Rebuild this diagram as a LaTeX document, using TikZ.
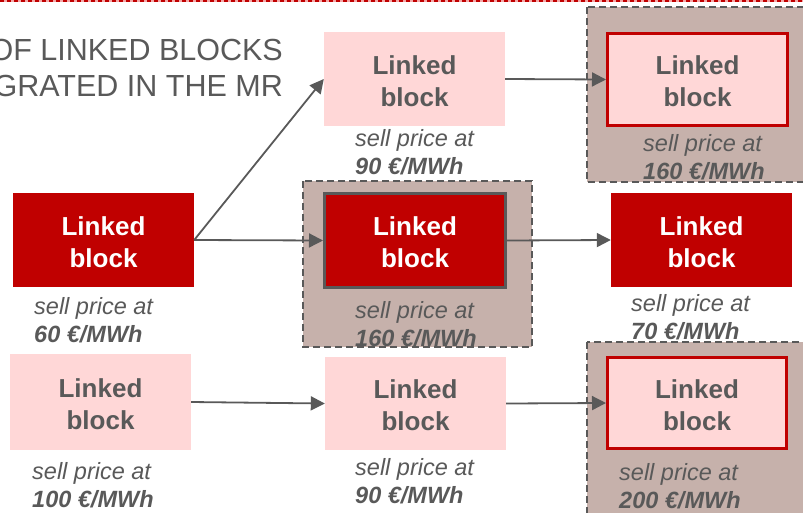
\documentclass[tikz,border=0pt]{standalone}
\usepackage{fontspec}
\setmainfont{Liberation Sans}
\usetikzlibrary{arrows.meta}
\definecolor{dkred}{HTML}{C00000}
\definecolor{lpink}{HTML}{FFD7D7}
\definecolor{taupe}{HTML}{C6B1AB}
\definecolor{txtgray}{HTML}{595959}
\definecolor{edgepink}{HTML}{F4A8A8}
\newcommand{\blocktext}{\rule{0pt}{23pt}Linked\\block}
\tikzset{
  blockbase/.style={rectangle, minimum width=181pt, minimum height=94pt,
    inner sep=0pt, align=center, font=\fontsize{26}{32}\selectfont\bfseries},
  darkblock/.style={blockbase, fill=dkred, text=white},
  pinkblock/.style={blockbase, fill=lpink, text=txtgray},
  chosenpink/.style={blockbase, fill=lpink, text=txtgray, draw=dkred,
    line width=3pt, minimum width=180pt, minimum height=92pt},
  chosendark/.style={blockbase, fill=dkred, text=white, draw=txtgray,
    line width=3pt},
  pricelabel/.style={anchor=base west, inner sep=0pt, align=left,
    text=txtgray, font=\fontsize{23.5}{28.5}\selectfont\itshape},
  zone/.style={fill=taupe, draw=txtgray, line width=1.5pt,
    dash pattern=on 7pt off 4pt},
  link/.style={draw=txtgray, line width=1.8pt,
    -{Triangle[length=14pt,width=14pt]}},
}
\begin{document}
\begin{tikzpicture}[x=1pt,y=-1pt]
\useasboundingbox (0,0) rectangle (803,512);
\clip (0,0) rectangle (803,512);

% dashed rule along the top edge
\draw[edgepink, line width=2.5pt] (0,1) -- (803,1);
\draw[dkred, line width=2.5pt, dash pattern=on 4pt off 3pt] (0,1) -- (803,1);

% heading
\node[anchor=east, inner sep=0pt, align=right, text=txtgray,
      font=\fontsize{30.5}{36}\selectfont] (heading) at (283,68)
      {OF LINKED BLOCKS\\INTEGRATED IN THE MR};

% shaded zones around the accepted blocks
\path[zone] (587,7) rectangle (812,182);
\path[zone] (303,181) rectangle (532,347);
\path[zone] (587,342) rectangle (812,520);

% blocks
\node[darkblock]  (b60)  at (103.5,240) {\blocktext};
\node[pinkblock, minimum height=96pt] (b100) at (100.5,402) {\blocktext};
\node[pinkblock]  (b90a) at (414.5,79) {\blocktext};
\node[chosendark] (b160m) at (415,240.5) {\blocktext};
\node[pinkblock, minimum height=93pt] (b90b) at (415.5,403.5) {\blocktext};
\node[chosenpink] (b160t) at (697.5,79.5) {\blocktext};
\node[darkblock]  (b70)  at (701.5,240) {\blocktext};
\node[chosenpink, minimum width=179pt, minimum height=91pt] (b200) at (697,403) {\blocktext};

% price labels: the given point is the baseline of the second line
\node[pricelabel] (p60)   at (34,342.5)  {sell price at\\\textbf{60 €/MWh}};
\node[pricelabel] (p100)  at (32,507.5)  {sell price at\\\textbf{100 €/MWh}};
\node[pricelabel] (p90a)  at (355,174.5) {sell price at\\\textbf{90 €/MWh}};
\node[pricelabel] (p160m) at (355,346.5) {sell price at\\\textbf{160 €/MWh}};
\node[pricelabel] (p90b)  at (355,503.5) {sell price at\\\textbf{90 €/MWh}};
\node[pricelabel] (p160t) at (643,179.5) {sell price at\\\textbf{160 €/MWh}};
\node[pricelabel] (p70)   at (631,339.5) {sell price at\\\textbf{70 €/MWh}};
\node[pricelabel] (p200)  at (619,508.5) {sell price at\\\textbf{200 €/MWh}};

% links between blocks
\draw[link] (b60.east) -- (b90a.west);
\draw[link] (b60.east) -- (b160m.west);
\draw[link] (b160m.east) -- (b70.west);
\draw[link] (b90a.east) -- (b160t.west);
\draw[link] (b100.east) -- (b90b.west);
\draw[link] (b90b.east) -- (b200.west);
\end{tikzpicture}
\end{document}
